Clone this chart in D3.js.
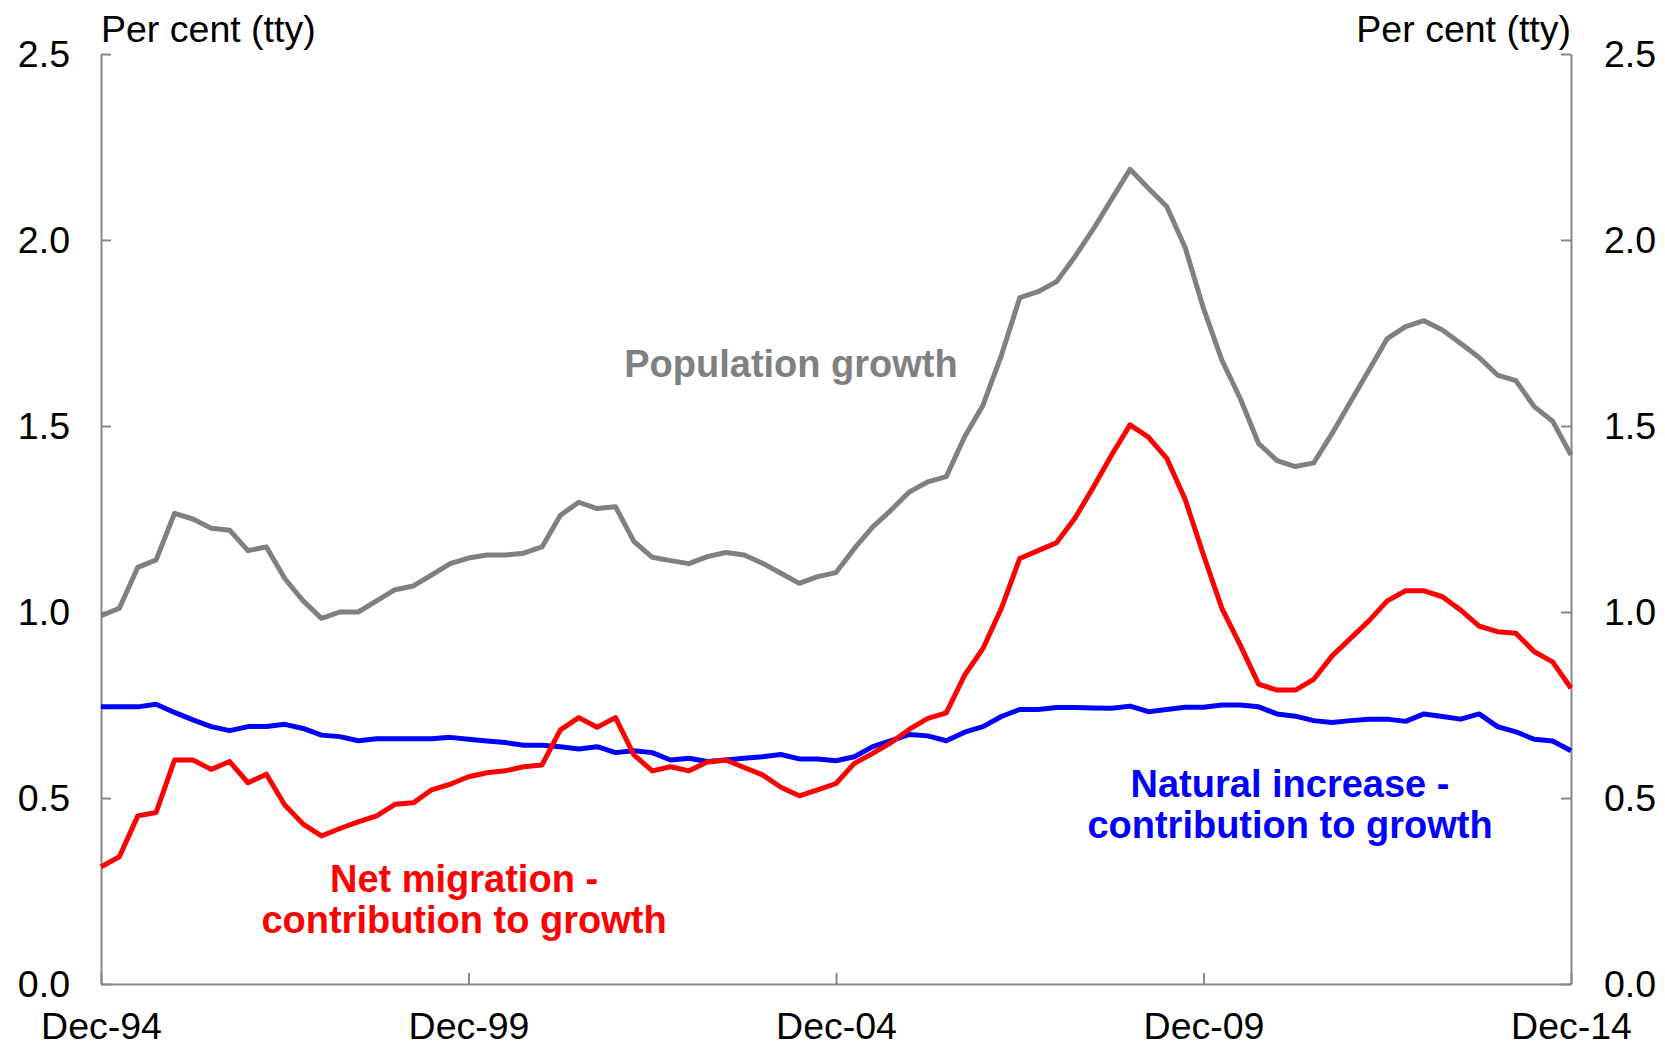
<!DOCTYPE html>
<html>
<head>
<meta charset="utf-8">
<script src="https://cdn.jsdelivr.net/npm/d3@7"></script>
<style>
    body { margin: 0; background: #fff; }
    svg text { font-family: "Liberation Sans", Arial, sans-serif; }
</style>
</head>
<body>
<div id="chart"></div>
<script>

    var quarters = [
        "Dec-94",
        "Mar-95", "Jun-95", "Sep-95", "Dec-95",
        "Mar-96", "Jun-96", "Sep-96", "Dec-96",
        "Mar-97", "Jun-97", "Sep-97", "Dec-97",
        "Mar-98", "Jun-98", "Sep-98", "Dec-98",
        "Mar-99", "Jun-99", "Sep-99", "Dec-99",
        "Mar-00", "Jun-00", "Sep-00", "Dec-00",
        "Mar-01", "Jun-01", "Sep-01", "Dec-01",
        "Mar-02", "Jun-02", "Sep-02", "Dec-02",
        "Mar-03", "Jun-03", "Sep-03", "Dec-03",
        "Mar-04", "Jun-04", "Sep-04", "Dec-04",
        "Mar-05", "Jun-05", "Sep-05", "Dec-05",
        "Mar-06", "Jun-06", "Sep-06", "Dec-06",
        "Mar-07", "Jun-07", "Sep-07", "Dec-07",
        "Mar-08", "Jun-08", "Sep-08", "Dec-08",
        "Mar-09", "Jun-09", "Sep-09", "Dec-09",
        "Mar-10", "Jun-10", "Sep-10", "Dec-10",
        "Mar-11", "Jun-11", "Sep-11", "Dec-11",
        "Mar-12", "Jun-12", "Sep-12", "Dec-12",
        "Mar-13", "Jun-13", "Sep-13", "Dec-13",
        "Mar-14", "Jun-14", "Sep-14", "Dec-14"
    ];

    // population growth, per cent (tty)
    var popGrowth = [
        0.99, 1.01, 1.12, 1.14, 1.265, 1.25, 1.225, 1.22, 1.165, 1.175,
        1.09, 1.03, 0.983, 1.0, 1.0, 1.03, 1.06, 1.07, 1.10, 1.13,
        1.145, 1.153, 1.153, 1.158, 1.175, 1.26, 1.295, 1.278, 1.283, 1.19,
        1.147, 1.138, 1.13, 1.149, 1.16, 1.153, 1.131, 1.104, 1.077, 1.095,
        1.106, 1.171, 1.229, 1.274, 1.323, 1.35, 1.364, 1.471, 1.556, 1.69,
        1.845, 1.861, 1.888, 1.955, 2.029, 2.11, 2.19, 2.139, 2.09, 1.98,
        1.816, 1.677, 1.574, 1.453, 1.407, 1.391, 1.401, 1.48, 1.565, 1.65,
        1.735, 1.767, 1.783, 1.758, 1.722, 1.684, 1.637, 1.622, 1.552, 1.513,
        1.422
    ];

    // net migration contribution
    var netMigration = [
        0.315, 0.342, 0.452, 0.461, 0.602, 0.602, 0.577, 0.598, 0.541, 0.564,
        0.481, 0.43, 0.398, 0.418, 0.436, 0.452, 0.483, 0.487, 0.522, 0.537,
        0.557, 0.568, 0.573, 0.584, 0.589, 0.683, 0.716, 0.69, 0.716, 0.616,
        0.573, 0.584, 0.573, 0.597, 0.602, 0.582, 0.562, 0.529, 0.506, 0.522,
        0.539, 0.593, 0.62, 0.649, 0.685, 0.714, 0.729, 0.83, 0.902, 1.01,
        1.144, 1.165, 1.186, 1.252, 1.335, 1.422, 1.503, 1.47, 1.413, 1.303,
        1.153, 1.01, 0.911, 0.806, 0.79, 0.79, 0.819, 0.882, 0.929, 0.976,
        1.03, 1.057, 1.057, 1.041, 1.005, 0.962, 0.947, 0.943, 0.893, 0.866,
        0.795
    ];

    // natural increase contribution
    var naturalIncrease = [
        0.745, 0.745, 0.745, 0.752, 0.73, 0.71, 0.692, 0.681, 0.692, 0.692,
        0.698, 0.687, 0.669, 0.665, 0.654, 0.659, 0.659, 0.659, 0.659, 0.663,
        0.658, 0.653, 0.649, 0.642, 0.642, 0.638, 0.632, 0.638, 0.622, 0.627,
        0.622, 0.602, 0.607, 0.598, 0.602, 0.607, 0.611, 0.617, 0.605, 0.605,
        0.6, 0.611, 0.638, 0.654, 0.671, 0.667, 0.654, 0.677, 0.692, 0.719,
        0.738, 0.738, 0.743, 0.743, 0.742, 0.741, 0.747, 0.732, 0.738, 0.744,
        0.744, 0.75, 0.75, 0.745, 0.726, 0.72, 0.708, 0.703, 0.708, 0.712,
        0.712, 0.706, 0.726, 0.719, 0.712, 0.726, 0.692, 0.678, 0.658, 0.653,
        0.627
    ];

    var xTickLabels = ["Dec-94", "Dec-99", "Dec-04", "Dec-09", "Dec-14"];
    var yTicks = [0, 0.5, 1.0, 1.5, 2.0, 2.5];

    var svgWidth = 1665;
    var svgHeight = 1047;

    var margin = {
        top: 54,
        bottom: 63,
        left: 101,
        right: 94
    };

    var plot_width = svgWidth - margin.left - margin.right;
    var plot_height = svgHeight - margin.top - margin.bottom;

    var svg = d3.select("#chart")
        .append("svg")
        .attr("width", svgWidth)
        .attr("height", svgHeight);

    var chartGroup = svg.append("g")
        .attr("transform", `translate(${margin.left}, ${margin.top})`);

    var xScale = d3.scalePoint()
        .domain(quarters)
        .range([0, plot_width]);

    var yScale = d3.scaleLinear()
        .domain([0, 2.5])
        .range([plot_height, 0]);

    var axisColor = "#888888";

    var leftAxis = d3.axisLeft(yScale)
        .tickValues(yTicks)
        .tickFormat(d3.format(".1f"))
        .tickSizeInner(-10)
        .tickSizeOuter(0)
        .tickPadding(31);

    var rightAxis = d3.axisRight(yScale)
        .tickValues(yTicks)
        .tickFormat(d3.format(".1f"))
        .tickSizeInner(-10)
        .tickSizeOuter(0)
        .tickPadding(33);

    var bottomAxis = d3.axisBottom(xScale)
        .tickValues(xTickLabels)
        .tickSizeInner(-11)
        .tickSizeOuter(0)
        .tickPadding(28);

    chartGroup.append("g").attr("class", "axis").call(leftAxis);
    chartGroup.append("g").attr("class", "axis")
        .attr("transform", `translate(${plot_width}, 0)`)
        .call(rightAxis);
    chartGroup.append("g").attr("class", "axis")
        .attr("transform", `translate(0, ${plot_height})`)
        .call(bottomAxis);

    chartGroup.selectAll(".axis path, .axis line")
        .attr("stroke", axisColor)
        .attr("stroke-width", 2);
    chartGroup.selectAll(".axis text")
        .attr("font-size", "37.5px")
        .attr("fill", "#000");

    // series lines
    var series = [
        { values: popGrowth, color: "#808080" },
        { values: naturalIncrease, color: "#0000ff" },
        { values: netMigration, color: "#ff0000" }
    ];

    var line = d3.line()
        .x((d, i) => xScale(quarters[i]))
        .y(d => yScale(d));

    chartGroup.selectAll(".series")
        .data(series)
        .enter()
        .append("path")
        .attr("class", "series")
        .attr("d", d => line(d.values))
        .attr("fill", "none")
        .attr("stroke", d => d.color)
        .attr("stroke-width", 5)
        .attr("stroke-linejoin", "round");

    // axis units
    svg.append("text")
        .attr("x", margin.left)
        .attr("y", 42)
        .attr("font-size", "37.5px")
        .attr("fill", "#000")
        .text("Per cent (tty)");

    svg.append("text")
        .attr("x", margin.left + plot_width)
        .attr("y", 42)
        .attr("text-anchor", "end")
        .attr("font-size", "37.5px")
        .attr("fill", "#000")
        .text("Per cent (tty)");

    // series labels
    function label(lines, x, y, color) {
        var t = svg.append("text")
            .attr("text-anchor", "middle")
            .attr("font-size", "38px")
            .attr("font-weight", "bold")
            .attr("fill", color);
        lines.forEach(function (s, i) {
            t.append("tspan")
                .attr("x", x)
                .attr("y", y + i * 41)
                .text(s);
        });
    }

    label(["Population growth"], 791, 377, "#808080");
    label(["Net migration -", "contribution to growth"], 464, 892, "#ff0000");
    label(["Natural increase -", "contribution to growth"], 1290, 797, "#0000ff");

</script>
</body>
</html>
